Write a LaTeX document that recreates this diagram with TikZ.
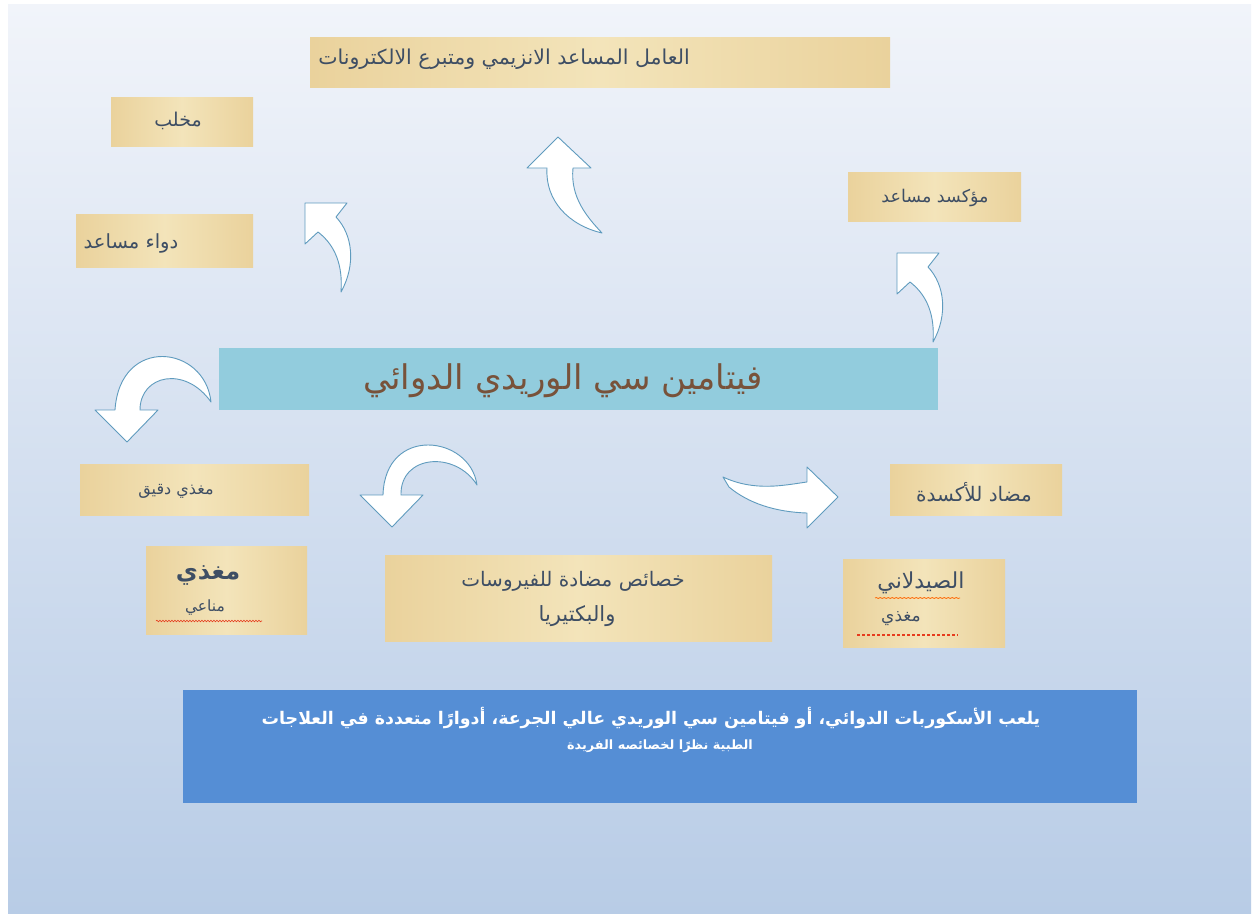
\documentclass[tikz,border=0pt]{standalone}
\usepackage{fontspec}
\setmainfont{DejaVu Sans}
\newfontfamily\arfont[Script=Arabic]{DejaVu Sans}
\TeXXeTstate=1
\usetikzlibrary{decorations.pathmorphing}
\newcommand\artx[1]{{\arfont\beginR #1\endR}}
\definecolor{bgtop}{RGB}{241,244,250}
\definecolor{bgbot}{RGB}{184,204,230}
\definecolor{papD}{RGB}{234,210,156}
\definecolor{papL}{RGB}{243,228,186}
\definecolor{txtblue}{RGB}{62,78,100}
\definecolor{vitblue}{RGB}{146,204,221}
\definecolor{vittext}{RGB}{120,82,58}
\definecolor{botblue}{RGB}{85,142,213}
\definecolor{arrowline}{RGB}{95,155,190}
\definecolor{spellred}{RGB}{230,60,30}
\tikzset{
  papbox/.style={shade, left color=papD, right color=papD, middle color=papL, draw=none, inner sep=0pt},
  lbl/.style={text=txtblue, inner sep=0pt, anchor=center},
  blockarrow/.style={fill=white, draw=arrowline, line width=0.9pt, line join=round},
  squig/.style={draw=spellred, line width=0.6pt, decorate, decoration={snake, amplitude=0.8pt, segment length=3pt}}
}
\begin{document}
\begin{tikzpicture}[x=1pt,y=-1pt]
\useasboundingbox (0,0) rectangle (1253,913);
\fill[white] (0,0) rectangle (1253,913);
\shade[top color=bgtop, bottom color=bgbot] (8,4) rectangle (1251,913);

% papyrus boxes
\node[papbox, minimum width=580pt, minimum height=50pt] (top) at (600,62) {};
\node[papbox, minimum width=142pt, minimum height=49pt] (mikhlab) at (182,121.5) {};
\node[papbox, minimum width=177pt, minimum height=53pt] (dawa) at (164.5,240.5) {};
\node[papbox, minimum width=173pt, minimum height=49pt] (muaksid) at (934.5,196.5) {};
\node[papbox, minimum width=229pt, minimum height=51pt] (daqiq) at (194.5,489.5) {};
\node[papbox, minimum width=161pt, minimum height=88pt] (manai) at (226.5,590) {};
\node[papbox, minimum width=387pt, minimum height=86pt] (virus) at (578.5,598) {};
\node[papbox, minimum width=172pt, minimum height=51pt] (antiox) at (976,489.5) {};
\node[papbox, minimum width=162pt, minimum height=88pt] (saydal) at (924,603) {};

% central and bottom boxes
\node[fill=vitblue, minimum width=719pt, minimum height=62pt, inner sep=0pt] (vit) at (578.5,379) {};
\node[fill=botblue, minimum width=954pt, minimum height=113pt, inner sep=0pt] (bottom) at (660,746.5) {};

% labels
\node[lbl, font=\fontsize{20.5}{24}\selectfont] (ttop) at (504,59) {\artx{العامل المساعد الانزيمي ومتبرع الالكترونات}};
\node[lbl, font=\fontsize{19}{22}\selectfont] (tmikhlab) at (178,121) {\artx{مخلب}};
\node[lbl, font=\fontsize{19.5}{23}\selectfont] (tdawa) at (131,243) {\artx{دواء مساعد}};
\node[lbl, font=\fontsize{17.5}{21}\selectfont] (tmuaksid) at (935,198) {\artx{مؤكسد مساعد}};
\node[lbl, text=vittext, font=\fontsize{34}{38}\selectfont] (tvit) at (563,381) {\artx{فيتامين سي الوريدي الدوائي}};
\node[lbl, font=\fontsize{16}{19}\selectfont] (tdaqiq) at (176,491) {\artx{مغذي دقيق}};
\node[lbl, font=\fontsize{24}{28}\selectfont\bfseries] (tmughadhi) at (208,575) {\artx{مغذي}};
\node[lbl, font=\fontsize{15.5}{18}\selectfont] (tmanai) at (205,607) {\artx{مناعي}};
\node[lbl, font=\fontsize{20}{24}\selectfont] (tvirus1) at (573,581) {\artx{خصائص مضادة للفيروسات}};
\node[lbl, font=\fontsize{21}{25}\selectfont] (tvirus2) at (577,616) {\artx{والبكتيريا}};
\node[lbl, font=\fontsize{20}{24}\selectfont] (tantiox) at (974,492) {\artx{مضاد للأكسدة}};
\node[lbl, font=\fontsize{22}{26}\selectfont] (tsaydal) at (921,583) {\artx{الصيدلاني}};
\node[lbl, font=\fontsize{17}{20}\selectfont] (tmugh2) at (901,619) {\artx{مغذي}};
\node[lbl, text=white, font=\fontsize{17.4}{21}\selectfont\bfseries] (tbot1) at (651,718) {\artx{يلعب الأسكوربات الدوائي، أو فيتامين سي الوريدي عالي الجرعة، أدوارًا متعددة في العلاجات}};
\node[lbl, text=white, font=\fontsize{12.8}{15}\selectfont\bfseries] (tbot2) at (660,746) {\artx{الطبية نظرًا لخصائصه الفريدة}};

% spell-check underlines
\draw[squig] (156,621) -- (262,621);
\draw[draw=orange!80!red, line width=0.7pt, decorate, decoration={snake, amplitude=0.5pt, segment length=4pt}] (875,598) -- (960,598);
\draw[spellred, line width=1.3pt, dash pattern=on 3pt off 2pt] (857,635) -- (958,635);

% block arrows
% A: up to top box
\draw[blockarrow] (602,233) .. controls (588,218) and (570,198) .. (573,168) -- (591,168) -- (558,137) -- (527,168) -- (547,168) .. controls (545,200) and (568,225) .. (602,233) -- cycle;
% B: up-left toward dawa
\draw[blockarrow] (341,292) .. controls (343,265) and (335,245) .. (318,232) -- (305,244) -- (305,203) -- (347,203) -- (336,217) .. controls (353,235) and (356,265) .. (341,292) -- cycle;
% C: up-left toward muaksid
\begin{scope}[shift={(592,50)}]
\draw[blockarrow] (341,292) .. controls (343,265) and (335,245) .. (318,232) -- (305,244) -- (305,203) -- (347,203) -- (336,217) .. controls (353,235) and (356,265) .. (341,292) -- cycle;
\end{scope}
% D: down-left toward daqiq
\draw[blockarrow] (211,402) .. controls (205,345) and (120,335) .. (115,410) -- (95,410) -- (127,442) -- (158,410) -- (140,410) .. controls (140,375) and (185,365) .. (211,402) -- cycle;
% E: down-left toward virus
\draw[blockarrow] (477,485) .. controls (470,435) and (385,425) .. (383,495) -- (360,495) -- (392,527) -- (423,495) -- (401,495) .. controls (400,455) and (455,450) .. (477,485) -- cycle;
% F: right toward antiox
\draw[blockarrow] (723,477) .. controls (755,492) and (785,485) .. (807,482) -- (807,467) -- (838,497) -- (807,528) -- (807,513) .. controls (775,512) and (748,503) .. (729,487) -- cycle;
\end{tikzpicture}
\end{document}
